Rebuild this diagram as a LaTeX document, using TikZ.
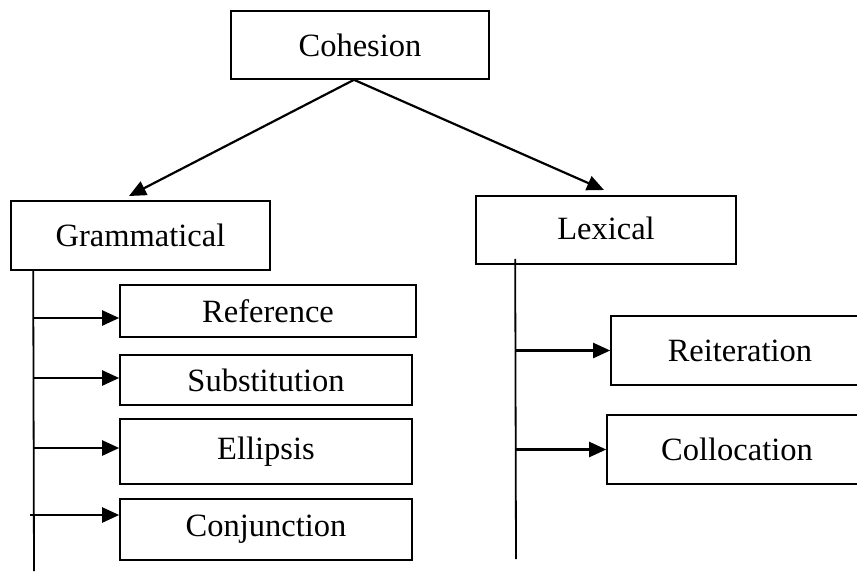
\documentclass[tikz,border=0pt]{standalone}
\usepackage{fontspec}
\setmainfont{Liberation Serif}
\usepackage{tikz}
\usetikzlibrary{arrows.meta}
\tikzset{>={Triangle[length=17pt,width=15pt]}}
\tikzset{box/.style={rectangle,draw,line width=1.6pt,inner sep=0pt,font=\fontsize{32.5}{38}\selectfont}}

\begin{document}
\begin{tikzpicture}[x=1pt,y=-1pt]
    \clip (0,0) rectangle (857,571);
    \node at (360, 45) [box,minimum width=258pt,minimum height=68pt] (coh) {Cohesion};
    \node at (140.5, 235.5) [box,minimum width=259pt,minimum height=69pt] (gram) {Grammatical};
    \node at (606, 230) [box,minimum width=260pt,minimum height=68pt] (lex) {\raisebox{4pt}{Lexical}};
    \node at (268, 311) [box,minimum width=296pt,minimum height=52pt] (ref) {\raisebox{-3pt}{Reference}};
    \node at (266, 380) [box,minimum width=292pt,minimum height=50pt] (subst) {Substitution};
    \node at (266, 451.5) [box,minimum width=292pt,minimum height=65pt] (ellip) {Ellipsis};
    \node at (266, 529.5) [box,minimum width=292pt,minimum height=61pt] (conj) {Conjunction};
    \node at (740, 350.5) [box,minimum width=258pt,minimum height=69pt] (reit) {Reiteration};
    \node at (737, 449.5) [box,minimum width=260pt,minimum height=69pt] (coll) {Collocation};
    % top split
    \coordinate (gtip) at (129, 196);
    \coordinate (ltip) at (604, 190);
    \draw [->,line width=2.2pt] ([xshift=-6pt]coh.south) to (gtip);
    \draw [->,line width=2.2pt] ([xshift=-6pt]coh.south) to (ltip);
    % grammatical trunk
    \coordinate (gtop) at ([xshift=23pt]gram.south west);
    \coordinate (gbot) at (34, 571);
    \draw [line width=1.8pt] (gtop) to (gbot);
    \coordinate (a1) at ([yshift=-7pt]ref.west);
    \coordinate (a2) at ([yshift=2pt]subst.west);
    \coordinate (a3) at ([yshift=3.5pt]ellip.west);
    \coordinate (a4) at ([yshift=14.5pt]conj.west);
    \draw [->,line width=2.2pt] (a1 -| gtop) to (a1);
    \draw [->,line width=2.2pt] (a2 -| gtop) to (a2);
    \draw [->,line width=2.2pt] (a3 -| gtop) to (a3);
    \draw [->,line width=2.2pt] ([xshift=-3pt]a4 -| gtop) to (a4);
    % lexical trunk
    \coordinate (ltop) at ([xshift=40pt,yshift=6pt]lex.south west);
    \coordinate (lbot) at (516, 559);
    \draw [line width=1.8pt] (ltop) to (lbot);
    \draw [->,line width=2.2pt] (reit.west -| ltop) to (reit.west);
    \draw [->,line width=2.2pt] (coll.west -| ltop) to (coll.west);
\end{tikzpicture}
\end{document}
